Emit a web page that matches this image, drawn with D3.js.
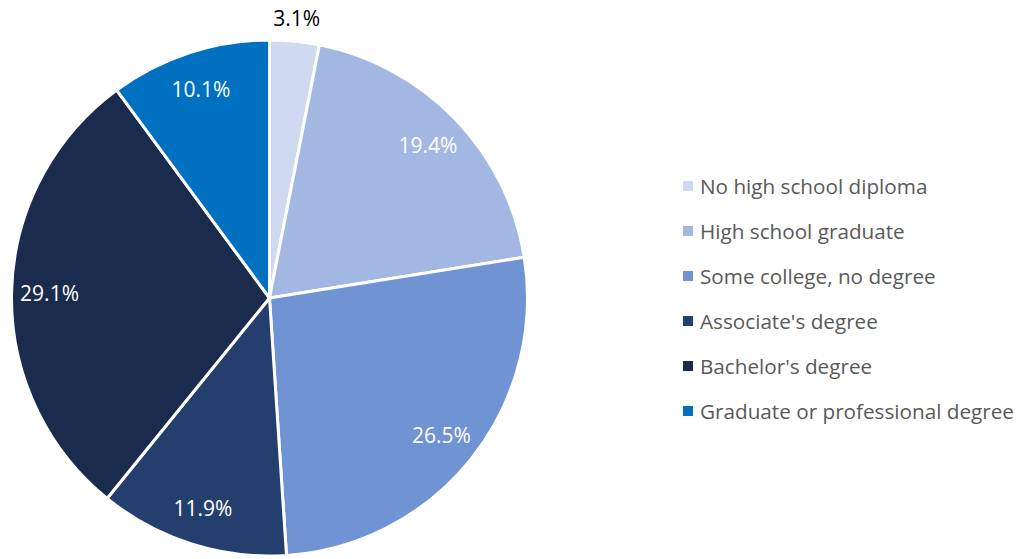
<!DOCTYPE html>
<html>
<head>
<meta charset="utf-8">
<script src="https://cdn.jsdelivr.net/npm/d3@7"></script>
<style>
  html, body { margin: 0; padding: 0; background: #fff; }
  svg { display: block; font-family: "Open Sans", "Noto Sans", sans-serif; }
</style>
</head>
<body>
<svg id="chart" width="1021" height="559"></svg>
<script>
// Educational attainment shares (percent)
const categories = [
  "No high school diploma",
  "High school graduate",
  "Some college, no degree",
  "Associate's degree",
  "Bachelor's degree",
  "Graduate or professional degree"
];
const values = [3.1, 19.4, 26.5, 11.9, 29.1, 10.1];
const colors = ["#CFDAF0", "#A2B7E1", "#6F93D3", "#243F6E", "#1A2B4D", "#0070C0"];
const labelColors = ["#000000", "#ffffff", "#ffffff", "#ffffff", "#ffffff", "#ffffff"];

const svg = d3.select("#chart");
const cx = 269.5, cy = 298, radius = 258;

const data = categories.map((c, i) => ({ name: c, value: values[i], color: colors[i], labelColor: labelColors[i] }));

const pie = d3.pie().value(d => d.value).sort(null);
const arcs = pie(data);

const arc = d3.arc().innerRadius(0).outerRadius(radius);
const labelArc = d3.arc().innerRadius(220).outerRadius(220);
const outsideArc = d3.arc().innerRadius(281).outerRadius(281);

const g = svg.append("g").attr("transform", `translate(${cx},${cy})`);

g.selectAll("path.slice")
  .data(arcs)
  .enter().append("path")
  .attr("class", "slice")
  .attr("d", arc)
  .attr("fill", d => d.data.color)
  .attr("stroke", "#ffffff")
  .attr("stroke-width", 3)
  .attr("stroke-linejoin", "round");

// Percent labels; the smallest slice gets its label outside the pie
g.selectAll("text.pct")
  .data(arcs)
  .enter().append("text")
  .attr("class", "pct")
  .attr("transform", d => {
    const p = (d.data.value < 5 ? outsideArc : labelArc).centroid(d);
    return `translate(${p[0]},${p[1]})`;
  })
  .attr("text-anchor", "middle")
  .attr("dominant-baseline", "central")
  .attr("font-size", 21)
  .attr("fill", d => d.data.labelColor)
  .text(d => d3.format(".1f")(d.data.value) + "%");

// Legend
const legend = svg.append("g").attr("transform", "translate(683,186)");
const rows = legend.selectAll("g.row")
  .data(data)
  .enter().append("g")
  .attr("class", "row")
  .attr("transform", (d, i) => `translate(0,${i * 45})`);

rows.append("rect")
  .attr("x", 0).attr("y", -5)
  .attr("width", 10).attr("height", 10)
  .attr("fill", d => d.color);

rows.append("text")
  .attr("x", 17)
  .attr("dominant-baseline", "central")
  .attr("font-size", 20.7)
  .attr("fill", "#595959")
  .text(d => d.name);
</script>
</body>
</html>
